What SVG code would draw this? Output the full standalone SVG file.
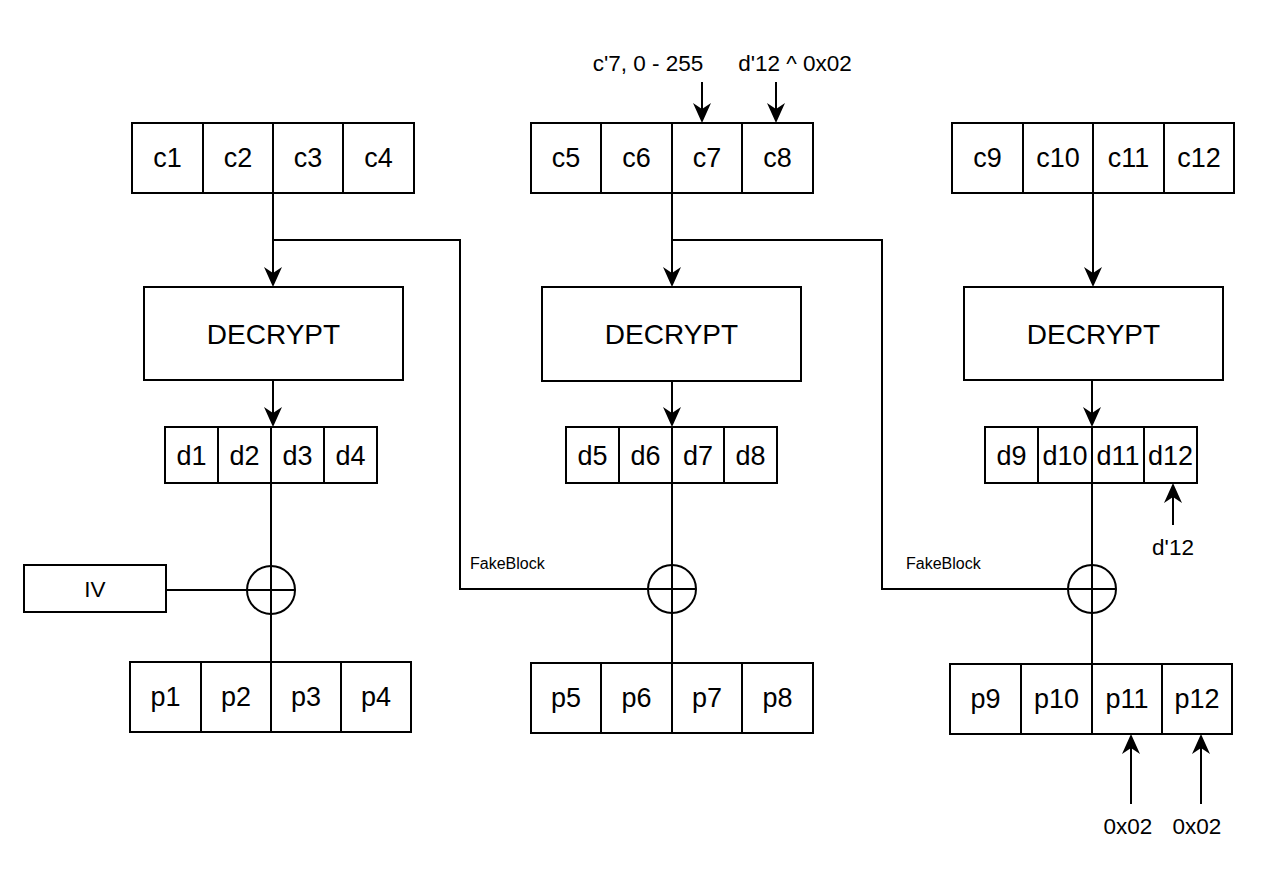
<svg xmlns="http://www.w3.org/2000/svg" width="1280" height="874" viewBox="0 0 1280 874">
<style>
  .box { fill: #ffffff; stroke: #000000; stroke-width: 2; }
  .ln { fill: none; stroke: #000000; stroke-width: 2; }
  .cell { font-family: "Liberation Sans", Arial, Helvetica, sans-serif; font-size: 27px; text-anchor: middle; fill: #000000; }
  .big { font-family: "Liberation Sans", Arial, Helvetica, sans-serif; font-size: 28px; text-anchor: middle; fill: #000000; }
  .lbl { font-family: "Liberation Sans", Arial, Helvetica, sans-serif; font-size: 22.5px; text-anchor: middle; fill: #000000; }
  .small { font-family: "Liberation Sans", Arial, Helvetica, sans-serif; font-size: 16px; fill: #000000; }
  .arr { marker-end: url(#ah); }
</style>
<defs>
  <marker id="ah" markerUnits="userSpaceOnUse" viewBox="0 0 20 18" refX="15" refY="9" markerWidth="20" markerHeight="18" orient="auto">
    <path d="M0,0 L20,9 L0,18 L6,9 Z" fill="#000000"/>
  </marker>
</defs>
<rect x="0" y="0" width="1280" height="874" fill="#ffffff"/>

<!-- Block 1 -->
<g id="c-row-1">
  <rect class="box" x="132" y="123" width="282" height="70"/>
  <line class="ln" x1="203" y1="123" x2="203" y2="193"/>
  <line class="ln" x1="273" y1="123" x2="273" y2="193"/>
  <line class="ln" x1="343" y1="123" x2="343" y2="193"/>
  <text class="cell" x="167.5" y="167">c1</text>
  <text class="cell" x="238" y="167">c2</text>
  <text class="cell" x="308" y="167">c3</text>
  <text class="cell" x="378.5" y="167">c4</text>
</g>
<g id="decrypt-1">
  <rect class="box" x="144" y="287" width="259" height="93"/>
  <text class="big" x="273.5" y="343.5">DECRYPT</text>
</g>
<g id="d-row-1">
  <rect class="box" x="165" y="427" width="212" height="56"/>
  <line class="ln" x1="218" y1="427" x2="218" y2="483"/>
  <line class="ln" x1="271" y1="427" x2="271" y2="483"/>
  <line class="ln" x1="324" y1="427" x2="324" y2="483"/>
  <text class="cell" x="191.5" y="464.5">d1</text>
  <text class="cell" x="244.5" y="464.5">d2</text>
  <text class="cell" x="297.5" y="464.5">d3</text>
  <text class="cell" x="350.5" y="464.5">d4</text>
</g>
<g id="iv">
  <rect class="box" x="24" y="565" width="142" height="47"/>
  <text class="lbl" x="95" y="597">IV</text>
</g>
<g id="p-row-1">
  <rect class="box" x="130" y="662" width="281" height="70"/>
  <line class="ln" x1="201" y1="662" x2="201" y2="732"/>
  <line class="ln" x1="271" y1="662" x2="271" y2="732"/>
  <line class="ln" x1="341" y1="662" x2="341" y2="732"/>
  <text class="cell" x="165.5" y="706">p1</text>
  <text class="cell" x="236" y="706">p2</text>
  <text class="cell" x="306" y="706">p3</text>
  <text class="cell" x="376" y="706">p4</text>
</g>

<!-- Block 2 -->
<g id="c-row-2">
  <rect class="box" x="531" y="123" width="282" height="70"/>
  <line class="ln" x1="601" y1="123" x2="601" y2="193"/>
  <line class="ln" x1="672" y1="123" x2="672" y2="193"/>
  <line class="ln" x1="742" y1="123" x2="742" y2="193"/>
  <text class="cell" x="566" y="167">c5</text>
  <text class="cell" x="636.5" y="167">c6</text>
  <text class="cell" x="707" y="167">c7</text>
  <text class="cell" x="777.5" y="167">c8</text>
</g>
<g id="decrypt-2">
  <rect class="box" x="542" y="287" width="259" height="94"/>
  <text class="big" x="671.5" y="344">DECRYPT</text>
</g>
<g id="d-row-2">
  <rect class="box" x="566" y="427" width="211" height="56"/>
  <line class="ln" x1="619" y1="427" x2="619" y2="483"/>
  <line class="ln" x1="672" y1="427" x2="672" y2="483"/>
  <line class="ln" x1="724" y1="427" x2="724" y2="483"/>
  <text class="cell" x="592.5" y="464.5">d5</text>
  <text class="cell" x="645.5" y="464.5">d6</text>
  <text class="cell" x="698" y="464.5">d7</text>
  <text class="cell" x="750.5" y="464.5">d8</text>
</g>
<g id="p-row-2">
  <rect class="box" x="531" y="663" width="282" height="70"/>
  <line class="ln" x1="601" y1="663" x2="601" y2="733"/>
  <line class="ln" x1="672" y1="663" x2="672" y2="733"/>
  <line class="ln" x1="742" y1="663" x2="742" y2="733"/>
  <text class="cell" x="566" y="707">p5</text>
  <text class="cell" x="636.5" y="707">p6</text>
  <text class="cell" x="707" y="707">p7</text>
  <text class="cell" x="777.5" y="707">p8</text>
</g>

<!-- Block 3 -->
<g id="c-row-3">
  <rect class="box" x="952" y="123" width="282" height="70"/>
  <line class="ln" x1="1023" y1="123" x2="1023" y2="193"/>
  <line class="ln" x1="1093" y1="123" x2="1093" y2="193"/>
  <line class="ln" x1="1164" y1="123" x2="1164" y2="193"/>
  <text class="cell" x="987.5" y="167">c9</text>
  <text class="cell" x="1058" y="167">c10</text>
  <text class="cell" x="1128.5" y="167">c11</text>
  <text class="cell" x="1199" y="167">c12</text>
</g>
<g id="decrypt-3">
  <rect class="box" x="964" y="287" width="259" height="93"/>
  <text class="big" x="1093.5" y="343.5">DECRYPT</text>
</g>
<g id="d-row-3">
  <rect class="box" x="985" y="427" width="212" height="56"/>
  <line class="ln" x1="1038" y1="427" x2="1038" y2="483"/>
  <line class="ln" x1="1092" y1="427" x2="1092" y2="483"/>
  <line class="ln" x1="1144" y1="427" x2="1144" y2="483"/>
  <text class="cell" x="1011.5" y="464.5">d9</text>
  <text class="cell" x="1065" y="464.5">d10</text>
  <text class="cell" x="1118" y="464.5">d11</text>
  <text class="cell" x="1170.5" y="464.5">d12</text>
</g>
<g id="p-row-3">
  <rect class="box" x="950" y="664" width="282" height="70"/>
  <line class="ln" x1="1021" y1="664" x2="1021" y2="734"/>
  <line class="ln" x1="1092" y1="664" x2="1092" y2="734"/>
  <line class="ln" x1="1162" y1="664" x2="1162" y2="734"/>
  <text class="cell" x="985.5" y="708">p9</text>
  <text class="cell" x="1056.5" y="708">p10</text>
  <text class="cell" x="1127" y="708">p11</text>
  <text class="cell" x="1197" y="708">p12</text>
</g>

<!-- XOR nodes -->
<g id="xor-1">
  <circle class="box" cx="271" cy="590" r="24"/>
  <line class="ln" x1="247" y1="590" x2="295" y2="590"/>
  <line class="ln" x1="271" y1="566" x2="271" y2="614"/>
</g>
<g id="xor-2">
  <circle class="box" cx="672" cy="589" r="24"/>
  <line class="ln" x1="648" y1="589" x2="696" y2="589"/>
  <line class="ln" x1="672" y1="565" x2="672" y2="613"/>
</g>
<g id="xor-3">
  <circle class="box" cx="1092" cy="589" r="24"/>
  <line class="ln" x1="1068" y1="589" x2="1116" y2="589"/>
  <line class="ln" x1="1092" y1="565" x2="1092" y2="613"/>
</g>

<!-- Labels -->
<g id="labels">
  <text class="lbl" x="648" y="71">c'7, 0 - 255</text>
  <text class="lbl" x="795" y="71">d'12 ^ 0x02</text>
  <text class="lbl" x="1173" y="555">d'12</text>
  <text class="lbl" x="1128" y="834">0x02</text>
  <text class="lbl" x="1197" y="834">0x02</text>
  <text class="small" x="470" y="569">FakeBlock</text>
  <text class="small" x="906" y="569">FakeBlock</text>
</g>

<!-- Connectors -->
<g id="connectors">
  <line class="ln arr" x1="273" y1="193" x2="273" y2="282"/>
  <polyline class="ln" points="273,240 460,240 460,589 648,589"/>
  <line class="ln arr" x1="273" y1="380" x2="273" y2="422"/>
  <line class="ln" x1="271" y1="483" x2="271" y2="566"/>
  <line class="ln" x1="271" y1="614" x2="271" y2="662"/>
  <line class="ln" x1="166" y1="590" x2="247" y2="590"/>

  <line class="ln arr" x1="702" y1="82" x2="702" y2="118"/>
  <line class="ln arr" x1="776" y1="82" x2="776" y2="118"/>
  <line class="ln arr" x1="672" y1="193" x2="672" y2="282"/>
  <polyline class="ln" points="672,240 882,240 882,589 1068,589"/>
  <line class="ln arr" x1="672" y1="381" x2="672" y2="422"/>
  <line class="ln" x1="672" y1="483" x2="672" y2="565"/>
  <line class="ln" x1="672" y1="613" x2="672" y2="663"/>

  <line class="ln arr" x1="1093" y1="193" x2="1093" y2="282"/>
  <line class="ln arr" x1="1092" y1="380" x2="1092" y2="422"/>
  <line class="ln" x1="1092" y1="483" x2="1092" y2="565"/>
  <line class="ln" x1="1092" y1="613" x2="1092" y2="664"/>
  <line class="ln arr" x1="1173" y1="525" x2="1173" y2="488"/>
  <line class="ln arr" x1="1131" y1="804" x2="1131" y2="739"/>
  <line class="ln arr" x1="1201" y1="804" x2="1201" y2="739"/>
</g>
</svg>
